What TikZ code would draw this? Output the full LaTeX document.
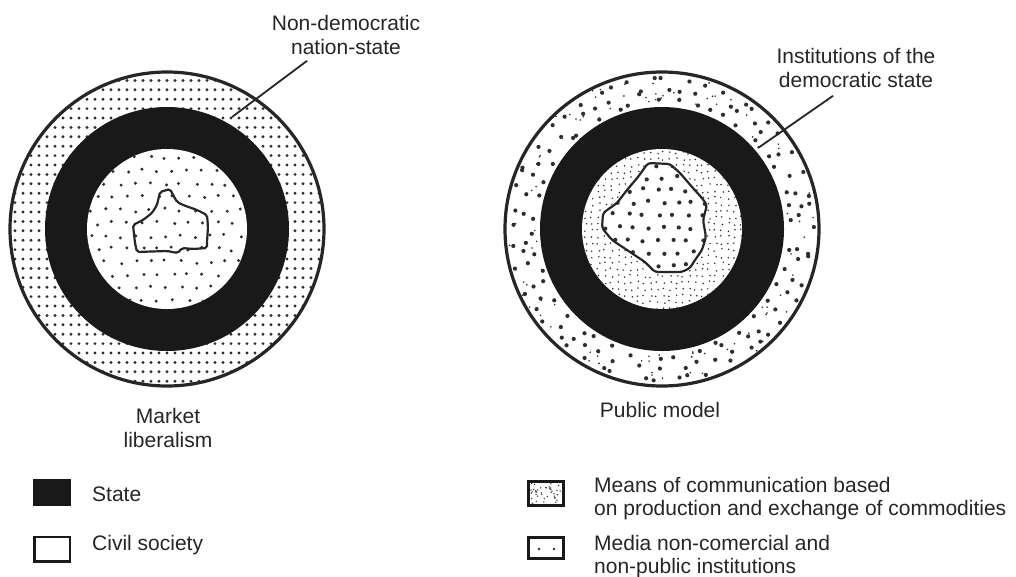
\documentclass[tikz,border=0pt]{standalone}
\usepackage{fontspec}
\setmainfont{Liberation Sans}
\begin{document}
\begin{tikzpicture}[x=1pt,y=-1pt,
  lbl/.style={font=\fontsize{21}{24}\selectfont, inner sep=0pt, text=black!85},
  leglbl/.style={font=\fontsize{21}{23}\selectfont, inner sep=0pt, align=left, anchor=north west, text=black!85},
  rim/.style={line width=3.2pt, draw=black!85},
  leader/.style={line width=1.8pt, draw=black!85},
  blobline/.style={line width=2.2pt, draw=black!85},
  keybox/.style={draw=black!90, line width=2.5pt, minimum width=35.5pt, minimum height=24.5pt, inner sep=0pt},
  dotc/.style={fill=black!82},
  lblobpath/.style={insert path={(160,192) -- (170,189) -- (172,193) -- (177,202) -- (183,205) -- (197,210) -- (207,215) -- (208,227) -- (207,242) -- (207,248) -- (193,249) -- (182,248) -- (178,253) -- (167,251) -- (137,252) -- (135,243) -- (133,225) -- (143,220) -- (152,213) -- (157,205) -- cycle}},
  rblobpath/.style={insert path={(648,163) -- (670,164) -- (680,173) -- (692,187) -- (702,198) -- (707,205) -- (703,220) -- (706,237) -- (702,250) -- (695,260) -- (690,268) -- (682,272) -- (655,272) -- (645,262) -- (627,250) -- (612,240) -- (602,228) -- (603,213) -- (617,203) -- (627,190) -- (638,177) -- cycle}},
]
\pgfmathsetseed{42}
\useasboundingbox (0,0) rectangle (1016,576);
\fill[white] (0,0) rectangle (1016,576);

% ---------------- Left diagram: Market liberalism ----------------
\coordinate (LC) at (167,229);
\begin{scope}
  \clip (LC) circle[radius=157pt];
  \foreach \i in {0,...,40}{
    \foreach \j in {0,...,34}{
      \fill[dotc] ({7+\i*8},{71+\j*9.4}) circle[radius=1.6pt];
    }
  }
\end{scope}
\fill[black!90] (LC) circle[radius=122pt];
\fill[white] (LC) circle[radius=80pt];
\begin{scope}
  \clip (LC) circle[radius=80pt];
  \foreach \i in {0,...,11}{
    \foreach \j in {0,...,13}{
      \pgfmathsetmacro\px{83+\i*15+mod(\j,2)*7.5+rand*2}
      \pgfmathsetmacro\py{145+\j*13+rand*2}
      \fill[dotc] (\px,\py) circle[radius=1.65pt];
    }
  }
\end{scope}
\path[blobline, rounded corners=2pt, lblobpath];
\draw[rim] (LC) circle[radius=157pt];

% ---------------- Right diagram: Public model ----------------
\coordinate (RC) at (662,229);
\begin{scope}
  \clip (RC) circle[radius=157pt];
  \foreach \rad/\num in {128/42,139/46,150/50}{
    \foreach \k in {1,...,\num}{
      \pgfmathsetmacro\ang{360/\num*\k+rand*4+\rad}
      \pgfmathsetmacro\rr{\rad+rand*2.5}
      \fill[dotc] ({662+\rr*cos(\ang)},{229+\rr*sin(\ang)}) circle[radius=2.1pt];
    }
  }
  \foreach \k in {1,...,90}{
    \pgfmathsetmacro\ang{rnd*360}
    \pgfmathsetmacro\rr{140+rand*15}
    \fill[dotc] ({662+\rr*cos(\ang)},{229+\rr*sin(\ang)}) circle[radius=0.9pt];
  }
\end{scope}
\fill[black!90] (RC) circle[radius=122pt];
\fill[white] (RC) circle[radius=80pt];
\begin{scope}
  \clip (RC) circle[radius=80pt];
  \foreach \i in {0,...,25}{
    \foreach \j in {0,...,25}{
      \pgfmathsetmacro\px{579+\i*6.5+rand*1.5}
      \pgfmathsetmacro\py{146+\j*6.5+rand*1.5}
      \fill[dotc] (\px,\py) circle[radius=0.85pt];
    }
  }
\end{scope}
\path[fill=white, rounded corners=3pt, rblobpath];
\begin{scope}
  \clip[rounded corners=3pt, rblobpath];
  \foreach \i in {0,...,8}{
    \foreach \j in {0,...,9}{
      \pgfmathsetmacro\px{600+\i*14.5+mod(\j,2)*5+rand*2}
      \pgfmathsetmacro\py{165+\j*12.5+rand*2}
      \fill[dotc] (\px,\py) circle[radius=2.1pt];
    }
  }
\end{scope}
\path[blobline, rounded corners=3pt, rblobpath];
\draw[rim] (RC) circle[radius=157pt];

% ---------------- Labels and leaders ----------------
\node[lbl, align=center, anchor=north] (lblL) at (346,15) {Non-democratic\\nation-state};
\coordinate (endL) at (232,117);
\draw[leader] ([xshift=-39pt,yshift=-6pt]lblL.south) -- (endL);

\node[lbl, align=center, anchor=north] (lblR) at (856,48) {Institutions of the\\democratic state};
\coordinate (endR) at (758,148);
\draw[leader] ([xshift=-23pt,yshift=-8pt]lblR.south) -- (endR);

\node[lbl, align=center, anchor=north] (capL) at (168,408) {Market\\liberalism};
\node[lbl, anchor=base] (capR) at (660,417) {Public model};

% ---------------- Legend ----------------
\node[keybox, fill=black!90] (keyState) at (52,492.5) {};
\node[lbl, anchor=base west] (txtState) at (92,501) {State};
\node[keybox, fill=white] (keyCivil) at (52,549) {};
\node[lbl, anchor=base west] (txtCivil) at (92,550) {Civil society};

\node[keybox, fill=white, line width=3pt, minimum width=35pt, minimum height=24pt] (keyMeans) at (546,493.5) {};
\begin{scope}
  \clip (529,482) rectangle (563,505);
  \foreach \k in {1,...,45}{
    \pgfmathsetmacro\px{546+rand*17}
    \pgfmathsetmacro\py{493.5+rand*11}
    \fill[dotc] (\px,\py) circle[radius=0.75pt];
  }
\end{scope}
\node[leglbl] (txtMeans) at (594,477) {Means of communication based\\on production and exchange of commodities};

\node[keybox, fill=white, line width=3pt, minimum width=35pt, minimum height=21pt] (keyMedia) at (546,548) {};
\fill[dotc] (539,549) circle[radius=1.3pt];
\fill[dotc] (554,549) circle[radius=1.3pt];
\node[leglbl] (txtMedia) at (594,535) {Media non-comercial and\\non-public institutions};
\end{tikzpicture}
\end{document}
